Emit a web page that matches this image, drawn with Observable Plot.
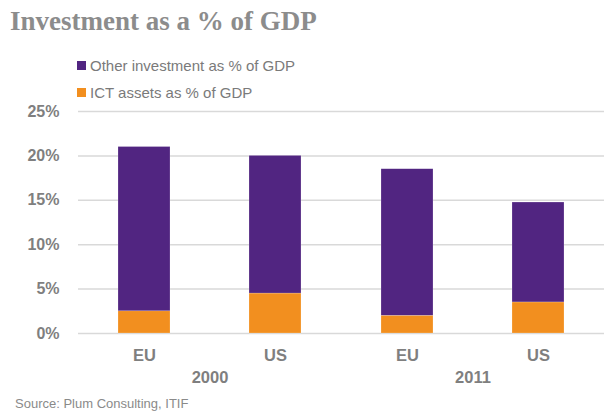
<!DOCTYPE html>
<html>
<head>
<meta charset="utf-8">
<script src="https://cdn.jsdelivr.net/npm/d3@7"></script>
<script src="https://cdn.jsdelivr.net/npm/@observablehq/plot@0.6"></script>
<style>
  body { margin: 0; background: #fff; width: 604px; height: 414px; position: relative; overflow: hidden; font-family: "Liberation Sans", Arial, sans-serif; }
  #title { position: absolute; left: 10px; top: 6px; font-family: "Liberation Serif", "Times New Roman", serif; font-weight: bold; font-size: 27px; color: #8c8c8c; white-space: nowrap; }
  .leg { position: absolute; left: 77px; font-size: 15px; color: #7a7a7a; white-space: nowrap; display: flex; align-items: center; }
  .leg span.sw { display: inline-block; width: 9px; height: 9px; margin-right: 4px; }
  #chart { position: absolute; left: 0; top: 100px; }
  #source { position: absolute; left: 15px; top: 396px; font-size: 13px; color: #8a8a8a; white-space: nowrap; }
</style>
</head>
<body>
<div id="title">Investment as a % of GDP</div>
<div id="legend"></div>
<div id="chart"></div>
<div id="source">Source: Plum Consulting, ITIF</div>
<script>
const years = ["2000", "2000", "2011", "2011"];
const regions = ["EU", "US", "EU", "US"];
const ictValues = [2.5, 4.5, 2.0, 3.5];
const otherValues = [18.5, 15.5, 16.5, 11.25];
const seriesNames = ["Other investment as % of GDP", "ICT assets as % of GDP"];
const seriesColors = ["#512581", "#f28f1f"];
const yTicks = [0, 5, 10, 15, 20, 25];

const data = [];
years.forEach((y, i) => {
  data.push({year: y, region: regions[i], series: seriesNames[1], value: ictValues[i]});
  data.push({year: y, region: regions[i], series: seriesNames[0], value: otherValues[i]});
});

// legend
const legend = document.getElementById("legend");
seriesNames.forEach((s, i) => {
  const d = document.createElement("div");
  d.className = "leg";
  d.style.top = (57 + i * 27) + "px";
  d.innerHTML = `<span class="sw" style="background:${seriesColors[i]}"></span>${s}`;
  legend.appendChild(d);
});

const font = "Liberation Sans, Arial, sans-serif";
const chart = Plot.plot({
  width: 604,
  height: 300,
  marginLeft: 77,
  marginRight: 0,
  marginTop: 11,
  marginBottom: 67,
  style: {fontFamily: font, background: "transparent"},
  fx: {domain: ["2000", "2011"], padding: 0},
  x: {domain: ["EU", "US"], padding: 0.6, paddingOuter: 0.3},
  y: {domain: [0, 25]},
  color: {domain: seriesNames, range: seriesColors},
  marks: [
    Plot.ruleY(yTicks, {stroke: "#d9d9d9", strokeWidth: 1.5}),
    Plot.barY(data, Plot.stackY({order: seriesNames.slice().reverse(), fx: "year", x: "region", y: "value", fill: "series", stroke: "#ffffff", strokeOpacity: 0.4, strokeWidth: 0.5})),
    Plot.axisY({ticks: yTicks, tickFormat: d => d + "%", tickSize: 0, tickPadding: 19, label: null, fontSize: 16, fontWeight: "bold", fill: "#7f7f7f"}),
    Plot.axisX({tickSize: 0, tickPadding: 16, label: null, fontSize: 16.5, fontWeight: "bold", fill: "#7f7f7f"}),
    Plot.axisFx({anchor: "bottom", tickSize: 0, tickPadding: 38, label: null, fontSize: 16.5, fontWeight: "bold", fill: "#7f7f7f"})
  ]
});
document.getElementById("chart").appendChild(chart);
</script>
</body>
</html>
